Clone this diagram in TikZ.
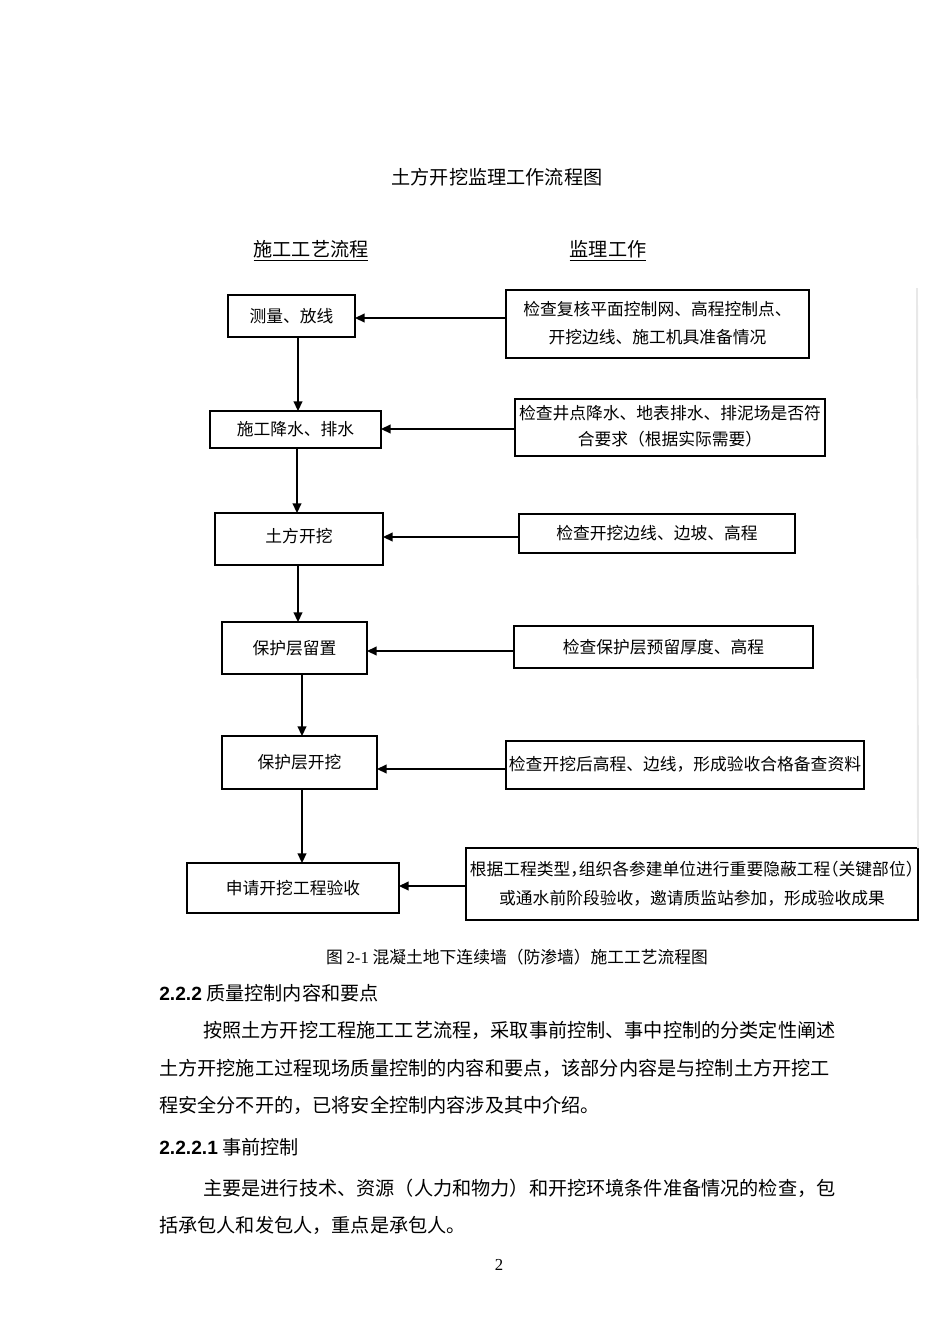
\documentclass[tikz,border=0pt]{standalone}
\usepackage{fontspec}
\setmainfont{Noto Sans CJK SC}
\newfontfamily\lserif{Liberation Serif}
\newfontfamily\lsans{Liberation Sans}
\usetikzlibrary{arrows.meta}
\newcommand\twolines[3]{\fontsize{10.5}{#1}\selectfont\begin{tabular}{@{}c@{}}#2\\#3\end{tabular}}
\newcommand\hw[1]{{\addfontfeature{CharacterWidth=AlternateHalf}#1}}
\begin{document}
\begin{tikzpicture}[x=0.62632pt,y=-0.62632pt,
  box/.style={draw, line width=0.7pt, inner sep=0pt, outer sep=0pt,
    font=\fontsize{10.5}{17.5}\selectfont},
  sz/.style 2 args={minimum width=#1*0.62632pt, minimum height=#2*0.62632pt},
  thk/.style={line width=1.3pt},
  arr/.style={line width=0.8pt, -{Triangle[length=6pt,width=5.5pt]}},
  body/.style={anchor=west, inner sep=0pt, font=\fontsize{12}{14}\selectfont},
  ctext/.style={inner sep=0pt, font=\fontsize{12}{14}\selectfont},
]
\useasboundingbox (0,0) rectangle (950,1344);
\fill[white] (0,0) rectangle (950,1344);

% title and headers
\node[ctext] (title) at (497,177) {土方开挖监理工作流程图};
\node[ctext] (hleft) at (311,251) {\underline{施工工艺流程}};
\node[ctext] (hright) at (608,251) {\underline{监理工作}};

% left column
\node[box, sz={127}{42}] (b1) at (291.5,316) {测量、放线};
\node[box, sz={171}{37}] (b2) at (295.5,429.5) {施工降水、排水};
\node[box, sz={168}{52}] (b3) at (299,539) {\raisebox{4pt}{土方开挖}};
\node[box, sz={145}{52}] (b4) at (294.5,648) {保护层留置};
\node[box, sz={155}{53}] (b5) at (299.5,762.5) {保护层开挖};
\node[box, sz={212}{50}] (b6) at (293,888) {申请开挖工程验收};

% right column
\node[box, sz={303}{68}] (r1) at (657.5,324) {\twolines{17.5}{检查复核平面控制网、高程控制点、}{开挖边线、施工机具准备情况}};
\node[box, sz={310}{57}] (r2) at (670,427.5) {\twolines{16}{检查井点降水、地表排水、排泥场是否符}{合要求（根据实际需要）}};
\node[box, sz={276}{39}] (r3) at (657,533.5) {检查开挖边线、边坡、高程};
\node[box, sz={299}{42}] (r4) at (663.5,647) {检查保护层预留厚度、高程};
\node[box, sz={358}{48}] (r5) at (685,765) {\raisebox{2pt}{检查开挖后高程、边线，形成验收合格备查资料}};
\node[box, sz={452}{72}] (r6) at (692,884) {\twolines{18.5}{根据工程类型\hw{，}组织各参建单位进行重要隐蔽工程\hw{（}关键部位\hw{）}}{或通水前阶段验收，邀请质监站参加，形成验收成果}};

% heavier edges (print artefacts)
\draw[thk] (b3.north west) -- (b3.south west) -- (b3.south east);
\draw[thk] (b4.north west) -- (b4.south west) -- (b4.south east);
\draw[thk] (b5.south west) -- (b5.south east);
\draw[thk] (r1.north west) -- (r1.south west) -- (r1.south east);
\draw[thk] (r3.north west) -- (r3.north east) -- (r3.south east);
\draw[thk] (r5.south west) -- (r5.north west) -- (r5.north east) -- (r5.south east);

% faint right margin line
\draw[gray!18, line width=1.2pt] (917,288) -- (r6.north east);

% helper coordinates
\coordinate (x1) at (298,0);
\coordinate (x2) at (297,0);
\coordinate (x3) at (298,0);
\coordinate (x4) at (302,0);
\coordinate (x5) at (302,0);
\coordinate (y1) at (0,318);
\coordinate (y2) at (0,429);
\coordinate (y3) at (0,537);
\coordinate (y4) at (0,651);
\coordinate (y5) at (0,769);
\coordinate (y6) at (0,886);

% vertical flow
\draw[arr] (b1.south -| x1) -- (b2.north -| x1);
\draw[arr] (b2.south -| x2) -- (b3.north -| x2);
\draw[arr] (b3.south -| x3) -- (b4.north -| x3);
\draw[arr] (b4.south -| x4) -- (b5.north -| x4);
\draw[arr] (b5.south -| x5) -- (b6.north -| x5);

% supervision arrows
\draw[arr] (r1.west |- y1) -- (b1.east |- y1);
\draw[arr] (r2.west |- y2) -- (b2.east |- y2);
\draw[arr] (r3.west |- y3) -- (b3.east |- y3);
\draw[arr] (r4.west |- y4) -- (b4.east |- y4);
\draw[arr] (r5.west |- y5) -- (b5.east |- y5);
\draw[arr] (r6.west |- y6) -- (b6.east |- y6);

% caption and body text
\node[inner sep=0pt, font=\fontsize{10.5}{12}\selectfont] (cap) at (517,957) {图 {\lserif 2-1} 混凝土地下连续墙（防渗墙）施工工艺流程图};
\node[body] (h1) at (159,993) {{\lsans\bfseries 2.2.2} 质量控制内容和要点};
\node[body] (p1) at (203,1030) {按照土方开挖工程施工工艺流程，采取事前控制、事中控制的分类定性阐述};
\node[body] (p2) at (159,1068) {土方开挖施工过程现场质量控制的内容和要点，该部分内容是与控制土方开挖工};
\node[body] (p3) at (159,1105) {程安全分不开的，已将安全控制内容涉及其中介绍。};
\node[body] (h2) at (159,1147) {{\lsans\bfseries 2.2.2.1} 事前控制};
\node[body] (q1) at (203,1188) {主要是进行技术、资源（人力和物力）和开挖环境条件准备情况的检查，包};
\node[body] (q2) at (159,1225) {括承包人和发包人，重点是承包人。};
\node[inner sep=0pt, font=\lserif\fontsize{10.5}{12}\selectfont] (pg) at (499,1265) {2};
\end{tikzpicture}
\end{document}
